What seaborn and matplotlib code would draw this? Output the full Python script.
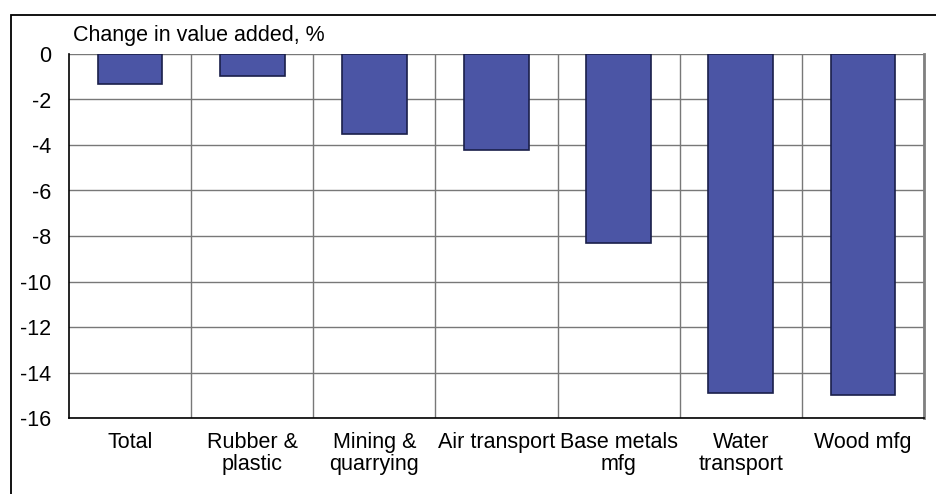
import matplotlib
matplotlib.use('Agg')
import matplotlib.pyplot as plt
import seaborn as sns
import numpy as np
from matplotlib.patches import Rectangle

# Data
categories = ['Total', 'Rubber &\nplastic', 'Mining &\nquarrying', 'Air transport',
              'Base metals\nmfg', 'Water\ntransport', 'Wood mfg']
change_pct = [-1.3, -0.95, -3.5, -4.2, -8.3, -14.9, -15.0]
y_ticks = [0, -2, -4, -6, -8, -10, -12, -14, -16]

sns.set_theme(style='white')
plt.rcParams['font.family'] = ['Liberation Sans', 'DejaVu Sans']
plt.rcParams['text.color'] = 'black'

fs = 15.5

fig = plt.figure(figsize=(9.37, 4.94), dpi=100)
ax = fig.add_axes([69 / 937, 1 - 418 / 494, (924 - 69) / 937, (418 - 54) / 494])

sns.barplot(x=categories, y=change_pct, color='#4b55a5', saturation=1,
            width=0.53, edgecolor='#1a1f4a', linewidth=1.2, ax=ax, zorder=3)

ax.set_ylim(-16, 0)
ax.set_xlim(-0.5, len(categories) - 0.5)
ax.set_yticks(y_ticks)
ax.set_yticklabels([str(t) for t in y_ticks])
ax.set_xticks(np.arange(len(categories)) + 0.5, minor=True)
ax.grid(True, axis='y', color='#787878', linewidth=1.0, zorder=0)
ax.grid(True, axis='x', which='minor', color='#787878', linewidth=1.0, zorder=0)
ax.tick_params(axis='both', which='both', length=0, labelsize=fs, colors='black')
ax.tick_params(axis='y', pad=13)
ax.tick_params(axis='x', pad=10)
for lbl in ax.get_xticklabels():
    lbl.set_linespacing(1.05)
ax.set_xlabel('')
ax.set_ylabel('')

for side in ['left', 'bottom']:
    ax.spines[side].set_color('black')
    ax.spines[side].set_linewidth(1.2)
ax.spines['top'].set_visible(False)
ax.spines['right'].set_color('#808080')
ax.spines['right'].set_linewidth(2)

fig.text(73 / 937, 1 - 35 / 494, 'Change in value added, %', fontsize=fs,
         ha='left', va='center', color='black')

# outer frame
fig.patches.append(Rectangle((11 / 937, -0.1), 1.2, 1 - 15 / 494 + 0.1,
                             transform=fig.transFigure, fill=False,
                             edgecolor='black', linewidth=1.3))

fig.savefig('out.png', dpi=100)
